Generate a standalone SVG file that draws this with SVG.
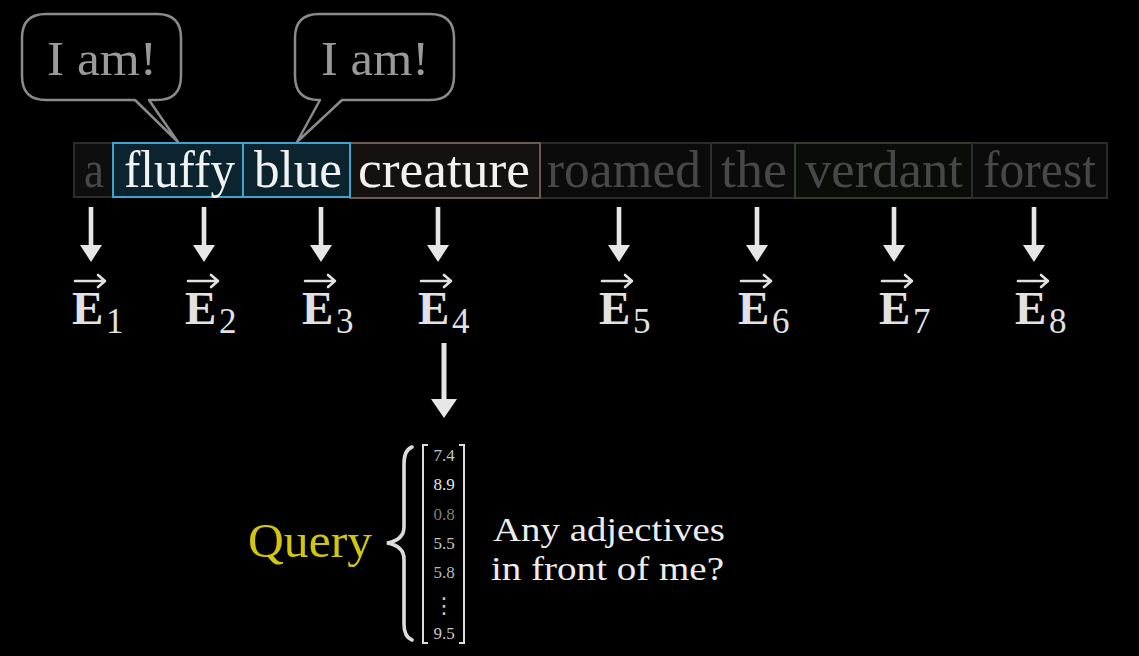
<svg xmlns="http://www.w3.org/2000/svg" width="1139" height="656" viewBox="0 0 1139 656">
<style>
.serif{font-family:"Liberation Serif","Times New Roman",serif}
.bub{fill:#000;stroke:#8a8a8a;stroke-width:2.5;stroke-linejoin:round}
.bubt{font-family:"Liberation Serif",serif;font-size:48px;fill:#9a9a9a;text-anchor:middle}
.word{font-family:"Liberation Serif",serif;font-size:53px}
.hi{fill:#f2f2f2}
.dim{fill:#484848}
.box{stroke-width:2}
.ev{font-family:"Liberation Serif",serif;font-size:47px;font-weight:bold;fill:#e2e2e2}
.sub{font-family:"Liberation Serif",serif;font-size:35px;fill:#e2e2e2}
.varr{fill:none;stroke:#e2e2e2;stroke-width:2.6;stroke-linecap:round;stroke-linejoin:round}
.arr{fill:#e6e6e6}
.num{font-family:"Liberation Serif",serif;font-size:17px;text-anchor:middle}
.brk{fill:none;stroke:#dcdcdc;stroke-width:2}
.q{font-family:"Liberation Serif",serif;font-size:34px;fill:#ececec}
</style>
<defs>
<path id="dn" d="M-2.3,0 H2.3 V38 H11 L0,55 L-11,38 H-2.3 Z"/>
<path id="vec" d="M3,12 H33 M26,6 L33,12 L26,18"/>
</defs>
<rect width="1139" height="656" fill="#000"/>

<g id="bubble1">
<path class="bub" d="M46,14 H157 Q181,14 181,38 V76 Q181,100 157,100 H149 L178,142 L135,100 H46 Q22,100 22,76 V38 Q22,14 46,14 Z"/>
<text class="bubt" x="102" y="75" textLength="110" lengthAdjust="spacingAndGlyphs">I am!</text>
</g>
<g id="bubble2">
<path class="bub" d="M319,14 H430 Q454,14 454,38 V76 Q454,100 430,100 H342 L297,142 L320,100 H319 Q295,100 295,76 V38 Q295,14 319,14 Z"/>
<text class="bubt" x="375" y="75" textLength="108" lengthAdjust="spacingAndGlyphs">I am!</text>
</g>

<g id="word-a">
<rect class="box" x="74" y="143" width="39" height="54" fill="#0e0e0e" stroke="#2c2c2c"/>
<text class="word dim" x="84" y="187" textLength="20" lengthAdjust="spacingAndGlyphs">a</text>
</g>
<g id="word-roamed">
<rect class="box" x="540" y="143" width="171" height="55" fill="#0b0b0b" stroke="#2e2a27"/>
<text class="word dim" x="547" y="187" textLength="154" lengthAdjust="spacingAndGlyphs">roamed</text>
</g>
<g id="word-the">
<rect class="box" x="711" y="143" width="84" height="55" fill="#0b0b0b" stroke="#2c2f2b"/>
<text class="word dim" x="721" y="187" textLength="66" lengthAdjust="spacingAndGlyphs">the</text>
</g>
<g id="word-verdant">
<rect class="box" x="795" y="143" width="177" height="55" fill="#090c07" stroke="#343b2d"/>
<text class="word dim" x="805" y="187" textLength="158" lengthAdjust="spacingAndGlyphs">verdant</text>
</g>
<g id="word-forest">
<rect class="box" x="972" y="143" width="135" height="55" fill="#0b0b0b" stroke="#2c2c2c"/>
<text class="word dim" x="983" y="187" textLength="113" lengthAdjust="spacingAndGlyphs">forest</text>
</g>
<g id="word-creature">
<rect class="box" x="350" y="143" width="190" height="55" fill="#15110f" stroke="#6c5b52"/>
<text class="word hi" x="358" y="187" textLength="172" lengthAdjust="spacingAndGlyphs">creature</text>
</g>
<g id="word-fluffy">
<rect class="box" x="113" y="143" width="130" height="54" fill="#0b2430" stroke="#3ea4cf"/>
<text class="word hi" x="124" y="187" textLength="111" lengthAdjust="spacingAndGlyphs">fluffy</text>
</g>
<g id="word-blue">
<rect class="box" x="243" y="143" width="107" height="54" fill="#0b2430" stroke="#3ea4cf"/>
<text class="word hi" x="254" y="187" textLength="88" lengthAdjust="spacingAndGlyphs">blue</text>
</g>

<g id="connectors">
<use href="#dn" class="arr" x="91" y="207"/>
<use href="#dn" class="arr" x="204" y="207"/>
<use href="#dn" class="arr" x="321" y="207"/>
<use href="#dn" class="arr" x="438" y="207"/>
<use href="#dn" class="arr" x="619" y="207"/>
<use href="#dn" class="arr" x="757" y="207"/>
<use href="#dn" class="arr" x="894" y="207"/>
<use href="#dn" class="arr" x="1034" y="207"/>
<path class="arr" d="M441.5,343 H446.5 V399 H457 L444,418 L431,399 H441.5 Z"/>
</g>

<g id="E1"><use href="#vec" class="varr" x="72" y="269"/><text class="ev" x="72" y="324">E</text><text class="sub" x="106" y="333">1</text></g>
<g id="E2"><use href="#vec" class="varr" x="185" y="269"/><text class="ev" x="185" y="324">E</text><text class="sub" x="219" y="333">2</text></g>
<g id="E3"><use href="#vec" class="varr" x="302" y="269"/><text class="ev" x="302" y="324">E</text><text class="sub" x="336" y="333">3</text></g>
<g id="E4"><use href="#vec" class="varr" x="418" y="269"/><text class="ev" x="418" y="324">E</text><text class="sub" x="452" y="333">4</text></g>
<g id="E5"><use href="#vec" class="varr" x="599" y="269"/><text class="ev" x="599" y="324">E</text><text class="sub" x="633" y="333">5</text></g>
<g id="E6"><use href="#vec" class="varr" x="738" y="269"/><text class="ev" x="738" y="324">E</text><text class="sub" x="772" y="333">6</text></g>
<g id="E7"><use href="#vec" class="varr" x="879" y="269"/><text class="ev" x="879" y="324">E</text><text class="sub" x="913" y="333">7</text></g>
<g id="E8"><use href="#vec" class="varr" x="1015" y="269"/><text class="ev" x="1015" y="324">E</text><text class="sub" x="1049" y="333">8</text></g>

<g id="query">
<text class="serif" x="248" y="557" font-size="48" fill="#d2c60c" textLength="124" lengthAdjust="spacingAndGlyphs">Query</text>
<path fill="none" stroke="#dcdcdc" stroke-width="3.6" stroke-linecap="round" d="M412,447 Q404,450 404,464 V527 Q404,540 387,543 Q404,546 404,559 V624 Q404,637 412,640"/>
</g>

<g id="vector">
<path class="brk" d="M428,445 H423 V643 H428"/>
<path class="brk" d="M459,445 H464 V643 H459"/>
<text class="num" x="444" y="461" fill="#c4c4c4">7.4</text>
<text class="num" x="444" y="490" fill="#e6e6e6">8.9</text>
<text class="num" x="444" y="520" fill="#7e7e7e">0.8</text>
<text class="num" x="444" y="549" fill="#c8c8c8">5.5</text>
<text class="num" x="444" y="578" fill="#b8b8b8">5.8</text>
<text x="444" y="613" font-family="DejaVu Sans,sans-serif" font-size="22" fill="#c8c8c8" text-anchor="middle">⋮</text>
<text class="num" x="444" y="639" fill="#c8c8c8">9.5</text>
</g>

<g id="question">
<text class="q" x="493" y="541" textLength="232" lengthAdjust="spacingAndGlyphs">Any adjectives</text>
<text class="q" x="491" y="580" textLength="233" lengthAdjust="spacingAndGlyphs">in front of me?</text>
</g>
</svg>
